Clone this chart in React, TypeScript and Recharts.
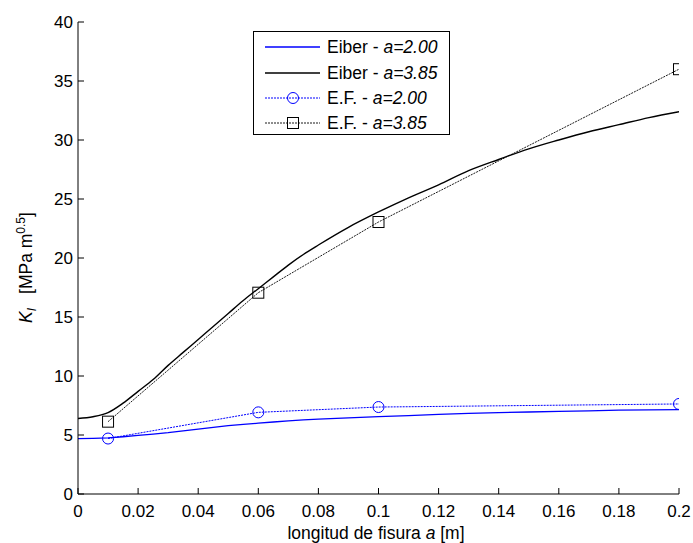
import React from 'react';
import { LineChart, Line, XAxis, YAxis, Legend } from 'recharts';

// ---- data ----
const eiberX = [0, 0.005, 0.01, 0.015, 0.02, 0.025, 0.03, 0.035, 0.04, 0.045, 0.05, 0.055, 0.06, 0.065, 0.07, 0.075, 0.08, 0.09, 0.1, 0.11, 0.12, 0.13, 0.14, 0.15, 0.16, 0.17, 0.18, 0.19, 0.2];
const eiber385 = [6.4, 6.55, 6.9, 7.7, 8.7, 9.7, 10.9, 12.0, 13.1, 14.2, 15.3, 16.4, 17.4, 18.4, 19.4, 20.3, 21.1, 22.6, 23.9, 25.1, 26.2, 27.4, 28.35, 29.25, 30.0, 30.7, 31.3, 31.9, 32.4];
const eiber200 = [4.7, 4.72, 4.76, 4.85, 4.96, 5.08, 5.2, 5.35, 5.5, 5.65, 5.8, 5.9, 6.0, 6.1, 6.2, 6.28, 6.35, 6.45, 6.55, 6.65, 6.75, 6.83, 6.9, 6.95, 7.0, 7.05, 7.1, 7.13, 7.15];
const efX = [0.01, 0.06, 0.1, 0.2];
const ef200 = [4.7, 6.92, 7.37, 7.63];
const ef385 = [6.13, 17.06, 23.05, 36.0];
const xTicks = [0, 0.02, 0.04, 0.06, 0.08, 0.1, 0.12, 0.14, 0.16, 0.18, 0.2];
const yTicks = [0, 5, 10, 15, 20, 25, 30, 35, 40];
const legendLabels = [
  { name: 'Eiber - ', param: 'a=2.00' },
  { name: 'Eiber - ', param: 'a=3.85' },
  { name: 'E.F. - ', param: 'a=2.00' },
  { name: 'E.F. - ', param: 'a=3.85' },
];

const toSeries = (xs: number[], ys: number[]) => xs.map((x, i) => ({ x, y: ys[i] }));
const sEiber200 = toSeries(eiberX, eiber200);
const sEiber385 = toSeries(eiberX, eiber385);
const sEf200 = toSeries(efX, ef200);
const sEf385 = toSeries(efX, ef385);

const FONT = '"Liberation Sans", Arial, sans-serif';
const BLUE = '#0000ff';
const TICK = 6;
const FS = 17;

const fmtX = (v: number) => (v === 0 ? '0' : String(Number(v.toFixed(2))));

const BottomTick = (props: any) => {
  const { x, y, payload } = props;
  return (
    <g>
      <line x1={x} y1={y} x2={x} y2={y - TICK} stroke="#000" strokeWidth={1} />
      <text x={x} y={y + 23} textAnchor="middle" fontFamily={FONT} fontSize={FS} fill="#000">
        {fmtX(payload.value)}
      </text>
    </g>
  );
};
const TopTick = (props: any) => {
  const { x, y } = props;
  return <line x1={x} y1={y} x2={x} y2={y + TICK} stroke="#000" strokeWidth={1} />;
};
const LeftTick = (props: any) => {
  const { x, y, payload } = props;
  return (
    <g>
      <line x1={x} y1={y} x2={x + TICK} y2={y} stroke="#000" strokeWidth={1} />
      <text x={x - 5} y={y + 6} textAnchor="end" fontFamily={FONT} fontSize={FS} fill="#000">
        {payload.value}
      </text>
    </g>
  );
};
const RightTick = (props: any) => {
  const { x, y } = props;
  return <line x1={x} y1={y} x2={x - TICK} y2={y} stroke="#000" strokeWidth={1} />;
};

const SquareDot = (props: any) => {
  const { cx, cy } = props;
  if (cx == null || cy == null) return null;
  return <rect x={cx - 5.5} y={cy - 5.5} width={11} height={11} fill="none" stroke="#000" strokeWidth={1} />;
};

const LegendBox = () => {
  const rows = [16, 42, 67, 92];
  return (
    <svg width={197} height={104} style={{ display: 'block' }}>
      <rect x={0.5} y={0.5} width={196} height={103} fill="#fff" stroke="#000" strokeWidth={1} />
      <line x1={12} y1={rows[0]} x2={67} y2={rows[0]} stroke={BLUE} strokeWidth={1.3} />
      <line x1={12} y1={rows[1]} x2={67} y2={rows[1]} stroke="#000" strokeWidth={1.3} />
      <line x1={12} y1={rows[2]} x2={67} y2={rows[2]} stroke={BLUE} strokeWidth={1} strokeDasharray="2 1" />
      <circle cx={40} cy={rows[2]} r={5.5} fill="none" stroke={BLUE} strokeWidth={1} />
      <line x1={12} y1={rows[3]} x2={67} y2={rows[3]} stroke="#000" strokeWidth={0.9} strokeDasharray="2 1" />
      <rect x={34.5} y={rows[3] - 5.5} width={11} height={11} fill="none" stroke="#000" strokeWidth={1} />
      {legendLabels.map((l, i) => (
        <text key={i} x={74} y={rows[i] + 6} fontFamily={FONT} fontSize={17.5} fill="#000">
          {l.name}
          <tspan fontStyle="italic">{l.param}</tspan>
        </text>
      ))}
    </svg>
  );
};

export default function App() {
  return (
    <div style={{ position: 'absolute', left: 0, top: 0, width: 693, height: 543 }}>
      <LineChart width={693} height={543} margin={{ top: 22, right: 14, bottom: 0, left: 0 }}>
        <XAxis
          xAxisId="b"
          type="number"
          dataKey="x"
          domain={[0, 0.2]}
          ticks={xTicks}
          interval={0}
          height={49}
          tickSize={0}
          tickMargin={0}
          tickLine={false}
          axisLine={{ stroke: '#000' }}
          tick={<BottomTick />}
          allowDataOverflow
        />
        <XAxis
          xAxisId="t"
          orientation="top"
          type="number"
          dataKey="x"
          domain={[0, 0.2]}
          ticks={xTicks}
          interval={0}
          height={0}
          tickSize={0}
          tickMargin={0}
          tickLine={false}
          axisLine={{ stroke: '#000' }}
          tick={<TopTick />}
          allowDataOverflow
        />
        <YAxis
          yAxisId="l"
          type="number"
          domain={[0, 40]}
          ticks={yTicks}
          interval={0}
          width={78}
          tickSize={0}
          tickMargin={0}
          tickLine={false}
          axisLine={{ stroke: '#000' }}
          tick={<LeftTick />}
          allowDataOverflow
        />
        <YAxis
          yAxisId="r"
          orientation="right"
          type="number"
          domain={[0, 40]}
          ticks={yTicks}
          interval={0}
          width={0}
          tickSize={0}
          tickMargin={0}
          tickLine={false}
          axisLine={{ stroke: '#000' }}
          tick={<RightTick />}
          allowDataOverflow
        />
        <Line xAxisId="b" yAxisId="l" data={sEiber200} dataKey="y" type="linear" stroke={BLUE} strokeWidth={1.3} dot={false} isAnimationActive={false} />
        <Line xAxisId="b" yAxisId="l" data={sEiber385} dataKey="y" type="monotone" stroke="#000" strokeWidth={1.4} dot={false} isAnimationActive={false} />
        <Line xAxisId="b" yAxisId="l" data={sEf200} dataKey="y" type="linear" stroke={BLUE} strokeWidth={1} strokeDasharray="2 1" dot={{ r: 5.5, fill: 'none', stroke: BLUE, strokeWidth: 1, strokeDasharray: '' }} isAnimationActive={false} />
        <Line xAxisId="b" yAxisId="l" data={sEf385} dataKey="y" type="linear" stroke="#000" strokeWidth={0.9} strokeDasharray="2 1" dot={<SquareDot />} isAnimationActive={false} />
        <Legend
          layout="vertical"
          align="center"
          verticalAlign="middle"
          content={<LegendBox />}
          wrapperStyle={{ position: 'absolute', left: 253, top: 31, width: 197, height: 104 }}
        />
        <text x={376} y={539} textAnchor="middle" fontFamily={FONT} fontSize={17.5} fill="#000">
          longitud de fisura <tspan fontStyle="italic">a</tspan> [m]
        </text>
        <text transform="translate(32,323) rotate(-90)" x={0} y={0} textAnchor="start" fontFamily={FONT} fontSize={17.5} fill="#000">
          <tspan fontStyle="italic">K</tspan>
          <tspan fontStyle="italic" fontSize={12} dy={4}>I</tspan>
          <tspan dy={-4} dx={14}>[MPa m</tspan>
          <tspan fontSize={12} dy={-7}>0.5</tspan>
          <tspan dy={7}>]</tspan>
        </text>
      </LineChart>
    </div>
  );
}
